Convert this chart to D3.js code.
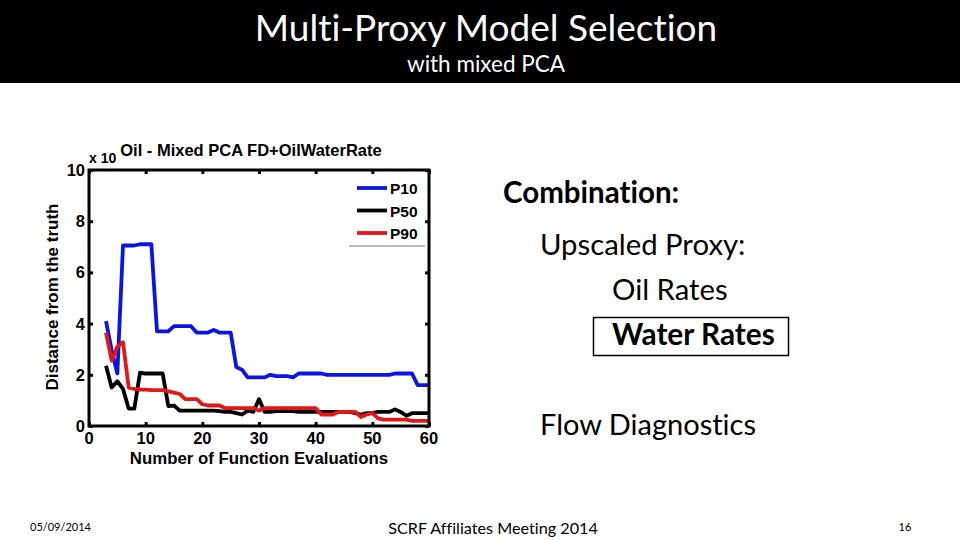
<!DOCTYPE html>
<html><head><meta charset="utf-8">
<script src="https://cdn.jsdelivr.net/npm/d3@7"></script>
<style>body{margin:0;background:#fff;overflow:hidden}svg{display:block}text{font-variant-ligatures:none}</style>
</head><body>
<svg id="c" width="960" height="540"></svg>
<script>
const xVals = [3,4,5,6,7,8,9,10,11,12,13,14,15,16,17,18,19,20,21,22,23,24,25,26,27,28,29,30,31,32,33,34,35,36,37,38,39,40,41,42,43,44,45,46,47,48,49,50,51,52,53,54,55,56,57,58,59,60];
const p10 = [4.1,2.95,2.05,7.05,7.05,7.05,7.1,7.1,7.1,3.7,3.7,3.7,3.9,3.9,3.9,3.9,3.65,3.65,3.65,3.75,3.65,3.65,3.65,2.3,2.2,1.9,1.9,1.9,1.9,2.0,1.95,1.95,1.95,1.9,2.05,2.05,2.05,2.05,2.05,2.0,2.0,2.0,2.0,2.0,2.0,2.0,2.0,2.0,2.0,2.0,2.0,2.05,2.05,2.05,2.05,1.6,1.6,1.6];
const p50 = [2.35,1.5,1.75,1.45,0.68,0.68,2.08,2.05,2.05,2.05,2.05,0.78,0.8,0.6,0.6,0.6,0.6,0.6,0.6,0.6,0.58,0.55,0.55,0.5,0.45,0.6,0.55,1.05,0.55,0.55,0.58,0.58,0.58,0.58,0.55,0.55,0.55,0.55,0.55,0.55,0.55,0.55,0.55,0.55,0.5,0.45,0.5,0.5,0.55,0.55,0.55,0.65,0.55,0.4,0.5,0.5,0.5,0.5];
const p90 = [3.65,2.55,3.1,3.27,1.5,1.45,1.42,1.42,1.4,1.4,1.4,1.35,1.3,1.25,1.05,1.05,1.05,0.85,0.8,0.8,0.8,0.7,0.7,0.7,0.7,0.7,0.7,0.6,0.7,0.7,0.7,0.7,0.7,0.7,0.7,0.7,0.7,0.7,0.45,0.45,0.45,0.55,0.55,0.55,0.55,0.35,0.45,0.5,0.3,0.25,0.25,0.25,0.25,0.25,0.2,0.2,0.2,0.2];
const seriesNames = ["P10","P50","P90"];
const seriesColors = ["#0a14e6","#000000","#e01818"];
const xTicks = [0,10,20,30,40,50,60];
const yTicks = [0,2,4,6,8,10];

const svg = d3.select("#c");
const cal = "Lato, 'Open Sans', sans-serif";
// header band
svg.append("rect").attr("x",0).attr("y",0).attr("width",960).attr("height",83).attr("fill","#000");
svg.append("text").attr("x",486).attr("y",41).attr("text-anchor","middle").attr("fill","#fff")
  .attr("font-family",cal).attr("font-size",37).text("Multi-Proxy Model Selection");
svg.append("text").attr("x",486).attr("y",72).attr("text-anchor","middle").attr("fill","#fff")
  .attr("font-family",cal).attr("font-size",22.5).text("with mixed PCA");

// chart
const x = d3.scaleLinear().domain([0,60]).range([89,429]);
const y = d3.scaleLinear().domain([0,10]).range([426,170]);
const g = svg.append("g");
const arial = "'Liberation Sans', Arial, sans-serif";

const line = d3.line().x((d,i)=>x(xVals[i])).y(d=>y(d));
[p10,p50,p90].forEach((s,k)=>{
  g.append("path").datum(s).attr("d",line).attr("fill","none")
   .attr("stroke",seriesColors[k]).attr("stroke-width",3.8).attr("stroke-linejoin","round");
});

// frame
g.append("rect").attr("x",x(0)).attr("y",y(10)).attr("width",x(60)-x(0)).attr("height",y(0)-y(10))
 .attr("fill","none").attr("stroke","#000").attr("stroke-width",3);

// inward ticks
const xb = d3.axisBottom(x).tickValues(xTicks).tickSize(-4).tickFormat("");
const xt = d3.axisTop(x).tickValues(xTicks).tickSize(-4).tickFormat("");
const yl = d3.axisLeft(y).tickValues(yTicks).tickSize(-4).tickFormat("");
const yr = d3.axisRight(y).tickValues(yTicks).tickSize(-4).tickFormat("");
[[xb,`translate(0,${y(0)})`],[xt,`translate(0,${y(10)})`],[yl,`translate(${x(0)},0)`],[yr,`translate(${x(60)},0)`]].forEach(([a,t])=>{
  const ax = g.append("g").attr("transform",t).call(a);
  ax.select(".domain").remove();
  ax.selectAll("line").attr("stroke","#000").attr("stroke-width",3);
});
// tick labels
xTicks.forEach(v=>{
  g.append("text").attr("x",x(v)).attr("y",444).attr("text-anchor","middle")
   .attr("font-family",arial).attr("font-weight","bold").attr("font-size",16.5).text(v);
});
yTicks.forEach(v=>{
  g.append("text").attr("x",85).attr("y",y(v)+6).attr("text-anchor","end")
   .attr("font-family",arial).attr("font-weight","bold").attr("font-size",16.5).text(v);
});
g.append("text").attr("x",259).attr("y",464).attr("text-anchor","middle")
 .attr("font-family",arial).attr("font-weight","bold").attr("font-size",16.8).text("Number of Function Evaluations");
g.append("text").attr("transform","translate(58,297) rotate(-90)").attr("text-anchor","middle")
 .attr("font-family",arial).attr("font-weight","bold").attr("font-size",17).text("Distance from the truth");
g.append("text").attr("x",251).attr("y",156).attr("text-anchor","middle")
 .attr("font-family",arial).attr("font-weight","bold").attr("font-size",16.5).text("Oil - Mixed PCA FD+OilWaterRate");
g.append("text").attr("x",89).attr("y",163)
 .attr("font-family",arial).attr("font-weight","bold").attr("font-size",14).text("x 10");

// legend
seriesNames.forEach((n,i)=>{
  const ly = 188 + i*22.5;
  g.append("line").attr("x1",357).attr("x2",387).attr("y1",ly).attr("y2",ly)
   .attr("stroke",seriesColors[i]).attr("stroke-width",3.8);
  g.append("text").attr("x",390).attr("y",ly+6).attr("font-family",arial).attr("font-weight","bold").attr("font-size",15.5).text(n);
});
g.append("line").attr("x1",349).attr("x2",425).attr("y1",246).attr("y2",246).attr("stroke","#777").attr("stroke-width",1);

// right text
svg.append("text").attr("x",503).attr("y",203).attr("font-family",cal).attr("font-weight","bold").attr("font-size",29.5).text("Combination:");
svg.append("text").attr("x",540).attr("y",255).attr("font-family",cal).attr("font-size",29.3).text("Upscaled Proxy:");
svg.append("text").attr("x",612).attr("y",300).attr("font-family",cal).attr("font-size",29.3).text("Oil Rates");
svg.append("rect").attr("x",593.5).attr("y",317.5).attr("width",195).attr("height",38).attr("fill","none").attr("stroke","#000").attr("stroke-width",1.5);
svg.append("text").attr("x",612).attr("y",345).attr("font-family",cal).attr("font-weight","bold").attr("font-size",29.8).text("Water Rates");
svg.append("text").attr("x",540).attr("y",435).attr("font-family",cal).attr("font-size",29).text("Flow Diagnostics");

// footer
svg.append("text").attr("x",30).attr("y",531).attr("font-family",cal).attr("font-size",11).text("05/09/2014");
svg.append("text").attr("x",493).attr("y",534).attr("text-anchor","middle").attr("font-family",cal).attr("font-size",16.2).text("SCRF Affiliates Meeting 2014");
svg.append("text").attr("x",905).attr("y",531).attr("text-anchor","middle").attr("font-family",cal).attr("font-size",11).text("16");
</script>
</body></html>
